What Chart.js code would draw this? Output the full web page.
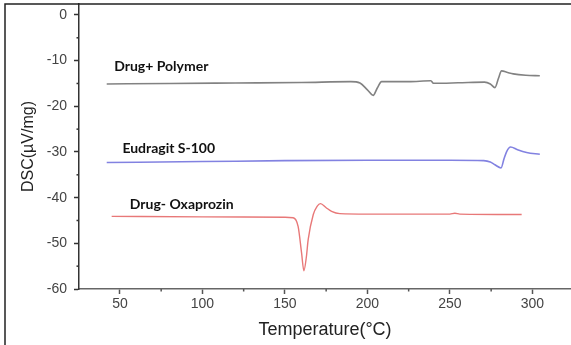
<!DOCTYPE html>
<html>
<head>
<meta charset="utf-8">
<script src="https://cdn.jsdelivr.net/npm/chart.js@4/dist/chart.umd.min.js"></script>
<style>
  html, body { margin: 0; padding: 0; background: #fff; }
  #wrap { width: 571px; height: 345px; }
</style>
</head>
<body>
<div id="wrap"><canvas id="dsc" width="571" height="345"></canvas></div>
<script>
// Drug + Polymer (grey)
var tempPolymer = [42, 80, 120, 160, 190, 195.5, 200, 203.5, 206, 208.6, 225, 238.5, 240, 255, 271, 274.5, 277.3, 279.5, 281.3, 285, 288.4, 296, 304.5];
var dscPolymer  = [-15.1, -15.0, -14.9, -14.8, -14.6, -14.9, -16.4, -17.6, -16.0, -14.6, -14.6, -14.4, -14.95, -14.85, -14.7, -15.1, -15.9, -13.8, -12.25, -12.6, -12.9, -13.2, -13.3];

// Eudragit S-100 (blue)
var tempEudragit = [42, 100, 150, 200, 250, 270.5, 274.5, 277.3, 281, 282.8, 284.4, 286.8, 291, 296.5, 304.5];
var dscEudragit  = [-32.3, -32.1, -31.9, -31.8, -31.8, -31.9, -32.2, -32.8, -33.5, -31.5, -29.9, -28.9, -29.5, -30.1, -30.5];

// Drug - Oxaprozin (red)
var tempOxa = [45, 100, 150, 155, 158, 160.1, 161.5, 163, 164.1, 167.2, 169.5, 171.6, 175, 178.3, 183.3, 200, 250, 253, 256, 293.5];
var dscOxa  = [-44.1, -44.2, -44.3, -44.4, -46.3, -52.1, -56.0, -53.0, -49.2, -43.7, -41.9, -41.3, -42.2, -43.0, -43.5, -43.6, -43.6, -43.4, -43.6, -43.7];

var seriesNames = ['Drug+ Polymer', 'Eudragit S-100', 'Drug- Oxaprozin'];
// where each name sits, in chart units (temperature, dsc)
var labelTemp = [46.5, 51.5, 56];
var labelDsc  = [-11.3, -29.2, -41.6];

var xTickStep = 25;
var yTickStep = 5;

function toPoints(xs, ys) {
  return xs.map(function (x, i) { return { x: x, y: ys[i] }; });
}

var frame = {
  id: 'frame',
  afterDraw: function (chart) {
    var c = chart.ctx;
    c.save();
    c.strokeStyle = '#222';
    c.lineWidth = 1.5;
    c.beginPath();
    c.moveTo(5, 345);
    c.lineTo(5, 4);
    c.lineTo(571, 4);
    c.stroke();

    // short minor ticks
    var xs = chart.scales.x, ys = chart.scales.y;
    c.strokeStyle = '#555';
    c.lineWidth = 1.5;
    xs.ticks.forEach(function (t) {
      if (t.value % 50 !== 0) {
        var px = xs.getPixelForValue(t.value);
        c.beginPath();
        c.moveTo(px, xs.top);
        c.lineTo(px, xs.top + 2.5);
        c.stroke();
      }
    });
    c.strokeStyle = '#333';
    ys.ticks.forEach(function (t) {
      if (t.value % 10 !== 0) {
        var py = ys.getPixelForValue(t.value);
        c.beginPath();
        c.moveTo(ys.right, py);
        c.lineTo(ys.right - 2.5, py);
        c.stroke();
      }
    });

    c.fillStyle = '#111';
    c.font = 'bold 14px Lato';
    c.textBaseline = 'middle';
    c.textAlign = 'left';
    seriesNames.forEach(function (name, i) {
      c.fillText(name, xs.getPixelForValue(labelTemp[i]), ys.getPixelForValue(labelDsc[i]));
    });
    c.restore();
  }
};

var ctx = document.getElementById('dsc').getContext('2d');
var chart = new Chart(ctx, {
  type: 'line',
  data: {
    datasets: [{
      label: seriesNames[0],
      data: toPoints(tempPolymer, dscPolymer),
      borderColor: 'rgb(130, 130, 130)',
      borderWidth: 1.6,
      pointRadius: 0,
      cubicInterpolationMode: 'monotone'
    }, {
      label: seriesNames[1],
      data: toPoints(tempEudragit, dscEudragit),
      borderColor: 'rgb(130, 130, 225)',
      borderWidth: 1.6,
      pointRadius: 0,
      cubicInterpolationMode: 'monotone'
    }, {
      label: seriesNames[2],
      data: toPoints(tempOxa, dscOxa),
      borderColor: 'rgb(232, 120, 120)',
      borderWidth: 1.4,
      pointRadius: 0,
      cubicInterpolationMode: 'monotone'
    }]
  },
  options: {
    responsive: false,
    animation: false,
    layout: { padding: { left: 19, top: 4, right: 0, bottom: 0 } },
    plugins: { legend: { display: false }, tooltip: { enabled: false } },
    scales: {
      x: {
        type: 'linear',
        min: 25.2,
        max: 323.4,
        afterFit: function (s) { s.height = 56; s.paddingLeft = 0; s.paddingRight = 0; },
        border: { color: '#666', width: 1.5 },
        grid: {
          drawOnChartArea: false,
          tickLength: 5,
          tickWidth: 1.5,
          tickColor: function (c) { return c.tick && c.tick.value % 50 === 0 ? '#555' : 'rgba(0,0,0,0)'; }
        },
        ticks: {
          stepSize: xTickStep,
          includeBounds: false,
          maxRotation: 0,
          autoSkip: false,
          padding: 2,
          color: '#444',
          font: { family: 'Liberation Sans', size: 14 },
          callback: function (v) { return v % 50 === 0 ? v : ''; }
        },
        title: {
          display: true,
          text: 'Temperature(°C)',
          color: '#222',
          font: { family: 'Liberation Sans', size: 18 },
          padding: { top: 0 }
        }
      },
      y: {
        type: 'linear',
        min: -60,
        max: 2.4,
        afterFit: function (s) { s.width = 60; s.paddingTop = 0; s.paddingBottom = 0; },
        border: { color: '#333', width: 1.5 },
        grid: {
          drawOnChartArea: false,
          tickLength: 5,
          tickWidth: 1.5,
          tickColor: function (c) { return c.tick && c.tick.value % 10 === 0 ? '#333' : 'rgba(0,0,0,0)'; }
        },
        ticks: {
          stepSize: yTickStep,
          includeBounds: false,
          autoSkip: false,
          padding: 7,
          color: '#444',
          font: { family: 'Liberation Sans', size: 14 },
          callback: function (v) { return v % 10 === 0 ? v : ''; }
        },
        title: {
          display: true,
          text: 'DSC(µV/mg)',
          color: '#222',
          font: { family: 'Liberation Sans', size: 16 },
          padding: { top: 0 }
        }
      }
    }
  },
  plugins: [frame]
});
</script>
</body>
</html>
